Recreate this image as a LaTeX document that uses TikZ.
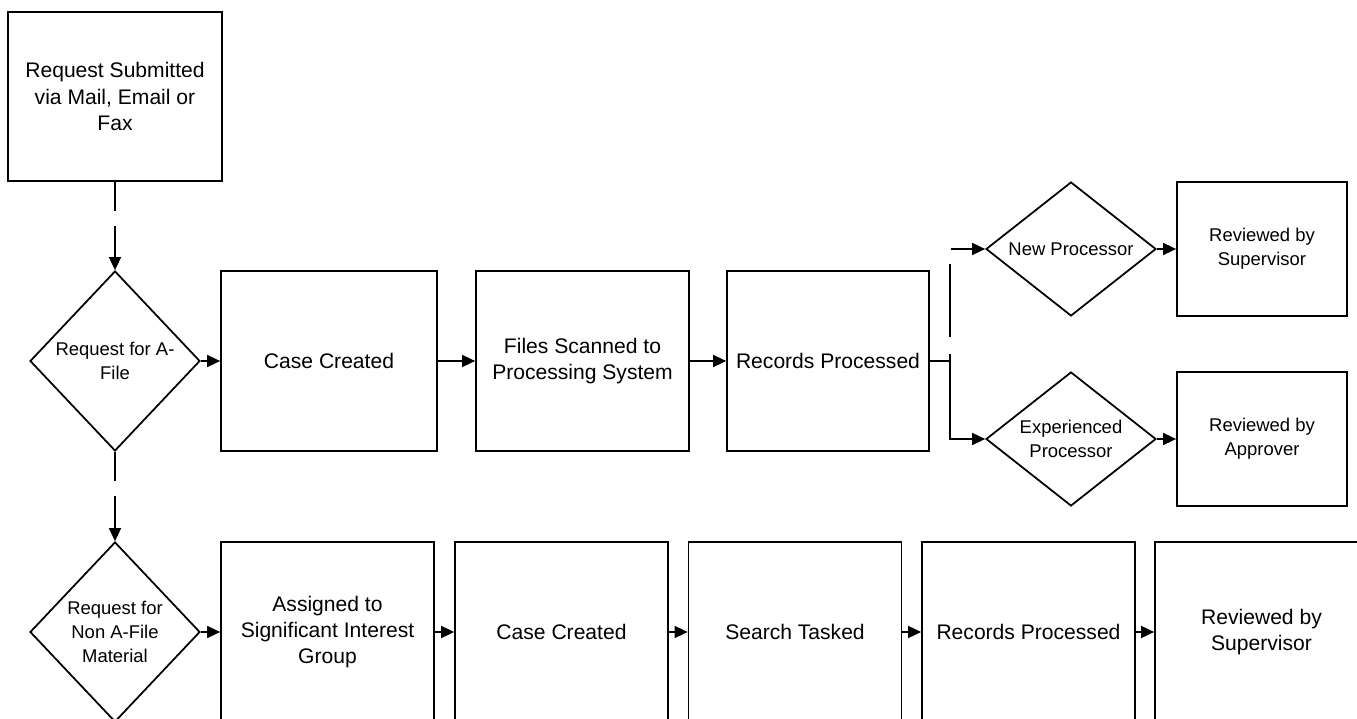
\documentclass[tikz,border=0pt]{standalone}
\usepackage{fontspec}
\setmainfont{Liberation Sans}
\usetikzlibrary{shapes.geometric,arrows.meta}
\begin{document}
\begin{tikzpicture}[x=0.02cm, y=-0.02cm, line width=1pt,
box/.style={draw, rectangle, align=center, font=\fontsize{12}{15}\selectfont, minimum height=3.6cm},
smallbox/.style={draw, rectangle, align=center, font=\fontsize{10.5}{13.6}\selectfont, minimum width=3.4cm, minimum height=2.68cm},
decision/.style={draw, diamond, align=center, inner sep=0pt, font=\fontsize{10.5}{13.6}\selectfont, minimum width=3.4cm, minimum height=3.6cm},
smalldecision/.style={decision, aspect=1.27, minimum height=2.68cm},
arr/.style={-{Triangle[length=7.4pt, width=6.8pt]}},
dashline/.style={dash pattern=on 16.4pt off 9pt on 40pt off 9pt}]
\clip (0,0) rectangle (1357,719);

\node[box, minimum width=4.28cm, minimum height=3.38cm] (submit) at (115,96.5) {Request Submitted\\via Mail, Email or\\Fax};
\node[decision] (afile) at (115,361) {Request for A-\\File};
\node[box, minimum width=4.32cm] (case) at (329,361) {Case Created};
\node[box, minimum width=4.26cm] (scan) at (582.5,361) {Files Scanned to\\Processing System};
\node[box, minimum width=4.04cm] (proc) at (828,361) {Records Processed};
\node[smalldecision] (newp) at (1071,249) {New Processor};
\node[smalldecision] (expp) at (1071,439) {Experienced\\Processor};
\node[smallbox] (supv) at (1262,249) {Reviewed by\\Supervisor};
\node[smallbox] (appr) at (1262,439) {Reviewed by\\Approver};
\node[decision] (nonafile) at (115,632) {Request for\\Non A-File\\Material};
\foreach \n/\x/\t in {assign/327.5/{Assigned to\\Significant Interest\\Group}, case2/561.5/{Case Created}, task/795/{Search Tasked}, proc2/1028.5/{Records Processed}, supv2/1261.5/{Reviewed by\\Supervisor}}
\node[box, minimum width=4.26cm] (\n) at (\x,632) {\t};

\foreach \a/\b in {afile/case, case/scan, scan/proc, newp/supv, expp/appr, nonafile/assign, assign/case2, case2/task, task/proc2, proc2/supv2}
\draw[arr] (\a) -- (\b);
\draw[arr, dashline] (submit) -- (afile);
\draw[arr, dashline] (afile) -- (nonafile);

\coordinate (fork) at (950,361);
\draw (proc) -- (fork);
\draw[arr, dash pattern=on 4pt off 9.6pt on 41.4pt off 9.1pt on 40pt off 1pt] (fork) |- (newp);
\draw[arr] (fork) |- (expp);
\end{tikzpicture}
\end{document}
